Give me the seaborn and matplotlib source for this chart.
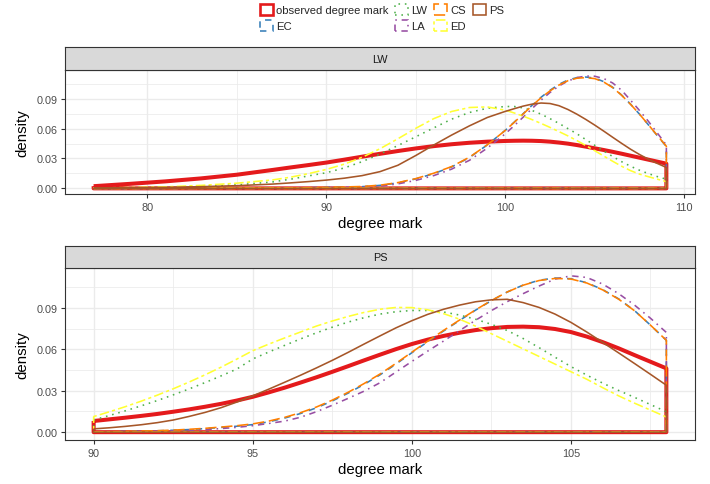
import numpy as np
import pandas as pd
import matplotlib
matplotlib.use("Agg")
import matplotlib.pyplot as plt
from matplotlib.patches import Patch
from matplotlib.ticker import MultipleLocator, FixedLocator, FormatStrFormatter
import seaborn as sns

# ---------------- data ----------------
methods = ["observed degree mark", "EC", "LW", "LA", "CS", "ED", "PS"]
panels = ["LW", "PS"]

lw_x = [77, 79, 81, 83, 85, 87, 88, 89, 90, 91, 92, 93, 94, 95, 96, 97, 98, 99,
        100, 100.5, 101, 101.5, 102, 102.5, 103, 103.5, 104, 104.5, 105, 105.5,
        106, 106.5, 107, 107.5, 108, 108.5, 109]
lw_obs = [0.0022, 0.0045, 0.007, 0.010, 0.0137, 0.0185, 0.021, 0.0234, 0.0259, 0.0288,
          0.0318, 0.0347, 0.0375, 0.0401, 0.0424, 0.0443, 0.0458, 0.0469,
          0.0476, 0.0478, 0.0479, 0.0478, 0.0475, 0.0469, 0.046, 0.0449, 0.0435,
          0.0419, 0.0402, 0.0385, 0.0367, 0.0348, 0.0328, 0.0308, 0.0288, 0.0268, 0.0248]
lw_ec = [0.0, 0.0, 0.0, 0.0001, 0.0002, 0.0004, 0.0005, 0.0007, 0.001, 0.0013,
         0.0017, 0.003, 0.0055, 0.0095, 0.0148, 0.0215, 0.031, 0.0437,
         0.0583, 0.0665, 0.075, 0.0835, 0.0915, 0.0985, 0.1045, 0.1088, 0.1112,
         0.1118, 0.1107, 0.1072, 0.1015, 0.0937, 0.0845, 0.0745, 0.0637, 0.0528, 0.042]
lw_lw = [0.0003, 0.0007, 0.0012, 0.002, 0.0035, 0.0065, 0.0092, 0.0125, 0.0157, 0.0205,
         0.0268, 0.0345, 0.043, 0.0518, 0.0607, 0.0695, 0.0762, 0.0805,
         0.0822, 0.0822, 0.0808, 0.0782, 0.0745, 0.070, 0.0652, 0.060, 0.0548,
         0.049, 0.0432, 0.0375, 0.032, 0.0268, 0.0222, 0.0182, 0.0148, 0.0118, 0.0092]
lw_la = [0.0, 0.0, 0.0, 0.0001, 0.0002, 0.0003, 0.0004, 0.0005, 0.0007, 0.001,
         0.0014, 0.0022, 0.0045, 0.008, 0.0128, 0.0193, 0.0282, 0.0405,
         0.0548, 0.063, 0.0715, 0.0802, 0.0886, 0.0963, 0.1028, 0.1078, 0.1112,
         0.1128, 0.1126, 0.1103, 0.1058, 0.0985, 0.0885, 0.0782, 0.0672, 0.0555, 0.0435]
lw_cs = [0.0, 0.0, 0.0, 0.0001, 0.0002, 0.0004, 0.0005, 0.0007, 0.001, 0.0014,
         0.0019, 0.0032, 0.0058, 0.0098, 0.0152, 0.0219, 0.0313, 0.0438,
         0.0582, 0.0663, 0.0747, 0.0831, 0.091, 0.0979, 0.1038, 0.1081, 0.1106,
         0.1112, 0.1102, 0.1068, 0.1012, 0.0935, 0.0844, 0.0745, 0.0638, 0.053, 0.0423]
lw_ed = [0.0004, 0.0008, 0.0015, 0.003, 0.0052, 0.0085, 0.0112, 0.0148, 0.019, 0.0243,
         0.0312, 0.0398, 0.0498, 0.0603, 0.070, 0.0772, 0.0812, 0.0818,
         0.0785, 0.0757, 0.0725, 0.069, 0.0652, 0.0612, 0.057, 0.0527, 0.048,
         0.043, 0.0378, 0.0325, 0.0272, 0.0222, 0.0178, 0.0143, 0.0117, 0.0092, 0.0068]
lw_ps = [0.0002, 0.0005, 0.001, 0.0017, 0.0027, 0.0043, 0.0055, 0.0068, 0.0083, 0.0102,
         0.0128, 0.0168, 0.0232, 0.033, 0.0435, 0.0535, 0.0628, 0.0712,
         0.0773, 0.080, 0.0826, 0.0846, 0.0857, 0.0852, 0.083, 0.0792, 0.0745,
         0.0692, 0.0635, 0.0575, 0.0513, 0.0452, 0.0393, 0.034, 0.0292, 0.025, 0.021]

ps_x = [90, 90.5, 91, 91.5, 92, 92.5, 93, 93.5, 94, 94.5, 95, 95.5, 96, 96.5, 97, 97.5,
        98, 98.5, 99, 99.5, 100, 100.5, 101, 101.5, 102, 102.5, 103, 103.5, 104, 104.5,
        105, 105.5, 106, 106.5, 107, 107.5, 108]
ps_obs = [0.0081, 0.0093, 0.0105, 0.0118, 0.0132, 0.0148, 0.0165, 0.0184, 0.0205, 0.0229,
          0.0256, 0.0288, 0.0322, 0.0359, 0.0397, 0.0437, 0.0478, 0.052, 0.0561, 0.0601,
          0.0638, 0.067, 0.0697, 0.072, 0.0739, 0.0753, 0.0762, 0.0764, 0.076, 0.0747,
          0.0725, 0.0692, 0.0652, 0.0607, 0.0558, 0.051, 0.0462]
ps_ec = [0.0002, 0.0003, 0.0005, 0.0007, 0.001, 0.0014, 0.0019, 0.0026, 0.0034, 0.0043,
         0.0055, 0.0075, 0.0102, 0.0135, 0.0176, 0.0226, 0.0283, 0.0346, 0.0415, 0.0493,
         0.0575, 0.0655, 0.0733, 0.0809, 0.0883, 0.0952, 0.1015, 0.1065, 0.110, 0.1116,
         0.1111, 0.1082, 0.1032, 0.0965, 0.088, 0.0775, 0.0665]
ps_lw = [0.0089, 0.0121, 0.0155, 0.0191, 0.0229, 0.027, 0.0313, 0.0359, 0.0407, 0.0457,
         0.053, 0.058, 0.0628, 0.0675, 0.0719, 0.076, 0.0797, 0.0829, 0.0855, 0.0872,
         0.0881, 0.0881, 0.087, 0.0848, 0.0818, 0.0781, 0.0736, 0.0678, 0.0612, 0.0543,
         0.0475, 0.0413, 0.0355, 0.0302, 0.0252, 0.020, 0.0148]
ps_la = [0.0001, 0.0002, 0.0003, 0.0005, 0.0007, 0.001, 0.0014, 0.0019, 0.0026, 0.0035,
         0.0047, 0.0063, 0.008, 0.0108, 0.0148, 0.0195, 0.0245, 0.0297, 0.0358, 0.0435,
         0.0512, 0.0587, 0.066, 0.0735, 0.081, 0.088, 0.0945, 0.1003, 0.1058, 0.1108,
         0.1132, 0.112, 0.1072, 0.1003, 0.092, 0.0825, 0.0722]
ps_cs = [0.0002, 0.0003, 0.0005, 0.0008, 0.0011, 0.0015, 0.0021, 0.0028, 0.0037, 0.0047,
         0.006, 0.008, 0.0107, 0.0141, 0.0182, 0.0232, 0.0289, 0.0352, 0.0421, 0.0498,
         0.0579, 0.0659, 0.0737, 0.0812, 0.0885, 0.0953, 0.1015, 0.1064, 0.1098, 0.1113,
         0.1109, 0.108, 0.103, 0.0963, 0.0879, 0.0775, 0.0665]
ps_ed = [0.0113, 0.0148, 0.0185, 0.0225, 0.0268, 0.0314, 0.0363, 0.0415, 0.047, 0.0529,
         0.059, 0.0637, 0.0682, 0.0725, 0.0768, 0.0805, 0.0838, 0.0867, 0.089, 0.0903,
         0.0902, 0.0886, 0.0858, 0.0818, 0.0768, 0.0713, 0.0658, 0.0603, 0.0548, 0.0493,
         0.0438, 0.0383, 0.0322, 0.0263, 0.021, 0.016, 0.011]
ps_ps = [0.0024, 0.0032, 0.0042, 0.0054, 0.0069, 0.0088, 0.0114, 0.0143, 0.0177, 0.0218,
         0.0263, 0.0311, 0.0361, 0.0412, 0.0465, 0.052, 0.0578, 0.0638, 0.0697, 0.0755,
         0.0807, 0.0853, 0.089, 0.092, 0.0944, 0.0958, 0.0962, 0.0938, 0.0903, 0.0855,
         0.0795, 0.0725, 0.065, 0.0574, 0.0497, 0.0419, 0.034]

panel_data = {
    "LW": (lw_x, [lw_obs, lw_ec, lw_lw, lw_la, lw_cs, lw_ed, lw_ps]),
    "PS": (ps_x, [ps_obs, ps_ec, ps_lw, ps_la, ps_cs, ps_ed, ps_ps]),
}

# ---------------- styles ----------------
colors = {"observed degree mark": "#E41A1C", "EC": "#377EB8", "LW": "#4DAF4A",
          "LA": "#984EA3", "CS": "#FF7F00", "ED": "#FFFF33", "PS": "#A65628"}
styles = {"observed degree mark": "-", "EC": (0, (4, 4)), "LW": (0, (1, 3)),
          "LA": (0, (1, 3, 4, 3)), "CS": (0, (7, 3)), "ED": (0, (2, 2, 6, 2)), "PS": "-"}
widths = {m: 1.15 for m in methods}
widths["observed degree mark"] = 2.9

sns.set_theme(style="white")
plt.rcParams['font.family'] = ['Liberation Sans', 'DejaVu Sans']

W, H = 710, 485
fig = plt.figure(figsize=(W / 100, H / 100), dpi=100)

def fx(px):
    return px / W

def fy(py):
    return 1 - py / H

layout = {
    "LW": dict(panel=(71, 195), strip=(48, 71), xlab=224),
    "PS": dict(panel=(269, 441), strip=(247, 269), xlab=470),
}

all_vals = [v for p in panel_data.values() for s in p[1] for v in s]
ymax = max(all_vals)
ylim = (-0.05 * ymax, 1.05 * ymax)

for name in panels:
    xs, series = panel_data[name]
    top, bot = layout[name]["panel"]
    ax = fig.add_axes([fx(65), fy(bot), fx(695) - fx(65), (bot - top) / H])
    # long-format frame, each curve closed down to the baseline like geom_density
    rows = []
    for m, ys in zip(methods, series):
        px = list(xs) + [xs[-1], xs[0], xs[0]]
        py = list(ys) + [0.0, 0.0, ys[0]]
        for i, (a, b) in enumerate(zip(px, py)):
            rows.append({"method": m, "order": i, "degree mark": a, "density": b})
    df = pd.DataFrame(rows)
    for m in methods:
        sub = df[df["method"] == m]
        sns.lineplot(data=sub, x="degree mark", y="density", sort=False, estimator=None,
                     color=colors[m], linewidth=widths[m], linestyle=styles[m],
                     dash_capstyle="butt", solid_capstyle="butt", solid_joinstyle="round",
                     ax=ax, zorder=3)
    rng = xs[-1] - xs[0]
    ax.set_xlim(xs[0] - 0.05 * rng, xs[-1] + 0.05 * rng)
    ax.set_ylim(*ylim)
    if name == "LW":
        ax.xaxis.set_major_locator(MultipleLocator(10))
        ax.xaxis.set_minor_locator(MultipleLocator(5))
    else:
        ax.xaxis.set_major_locator(MultipleLocator(5))
        ax.xaxis.set_minor_locator(MultipleLocator(2.5))
    ax.yaxis.set_major_locator(FixedLocator([0, 0.03, 0.06, 0.09]))
    ax.yaxis.set_minor_locator(FixedLocator([0.015, 0.045, 0.075, 0.105]))
    ax.yaxis.set_major_formatter(FormatStrFormatter("%.2f"))
    ax.xaxis.set_major_formatter(FormatStrFormatter("%g"))
    ax.grid(which="major", color="#EBEBEB", linewidth=1.0, zorder=0)
    ax.grid(which="minor", color="#EBEBEB", linewidth=0.55, zorder=0)
    ax.set_axisbelow(True)
    ax.tick_params(which="major", length=3, width=0.8, color="#333333",
                   labelsize=7.8, labelcolor="#4D4D4D", pad=2.5, left=True, bottom=True)
    ax.tick_params(which="minor", length=0)
    for sp in ax.spines.values():
        sp.set_color("#333333")
        sp.set_linewidth(0.8)
    ax.set_facecolor("white")
    ax.set_xlabel("degree mark", fontsize=10.8, color="black")
    ax.set_ylabel("density", fontsize=10.8, color="black")
    ph = bot - top
    ax.xaxis.set_label_coords(0.5, -(layout[name]["xlab"] - bot) / ph)
    ax.xaxis.label.set_va("center")
    ax.yaxis.set_label_coords(-(65 - 22) / 630, 0.5)
    ax.yaxis.label.set_va("center")

    # facet strip
    st, sb = layout[name]["strip"]
    sax = fig.add_axes([fx(65), fy(sb), fx(695) - fx(65), (sb - st) / H])
    sax.set_facecolor("#D9D9D9")
    sax.set_xticks([])
    sax.set_yticks([])
    for sp in sax.spines.values():
        sp.set_color("#333333")
        sp.set_linewidth(0.8)
    sax.text(0.5, 0.5, name, ha="center", va="center", fontsize=7.8,
             color="#1A1A1A", transform=sax.transAxes)

# legend
handles = [Patch(facecolor="white", edgecolor=colors[m], linestyle=styles[m],
                 linewidth=(1.9 if m == "observed degree mark" else 1.15), label=m)
           for m in methods]
fig.legend(handles=handles, loc="upper center", bbox_to_anchor=(fx(382), 1 - 2 / H),
           ncol=4, frameon=False, fontsize=8.1, handlelength=1.15, handleheight=1.15,
           handletextpad=0.3, columnspacing=0.6, labelspacing=0.42, borderpad=0.25,
           borderaxespad=0)

fig.savefig("out.png", dpi=100, facecolor="white")
